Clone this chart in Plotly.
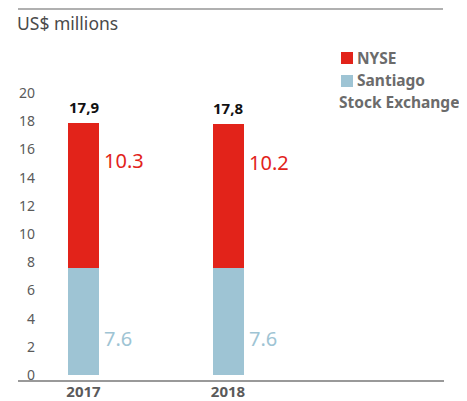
import plotly.graph_objects as go

# ---- data ----
years = ["2017", "2018"]
santiago = [7.6, 7.6]
nyse = [10.3, 10.2]
y_ticks = [0, 2, 4, 6, 8, 10, 12, 14, 16, 18, 20]
unit_label = "US$ millions"
series_names = ["NYSE", "Santiago", "Stock Exchange"]

RED = "#e2231a"
BLUE = "#9ec4d4"
GRAY = "#5a5a5a"
FONT = "Noto Sans"

OFF = 8  # page body margin
W, H = 467 - OFF, 401 - OFF
# plot area in page pixels
PL, PR, PT, PB = 38, 444, 70, 381
L, R, T, B = PL - OFF, W - (PR - OFF), PT - OFF, H - (PB - OFF)
PW, PH = PR - PL, PB - PT


def px_x(px):
    return (px - PL) / PW


def px_y(py):
    return (PB - py) / PH


xs = list(range(len(years)))
totals = [a + b for a, b in zip(santiago, nyse)]
BW = 0.2145

fig = go.Figure()
fig.add_trace(go.Bar(x=xs, y=santiago, width=BW, marker_color=BLUE,
                     marker_line_width=0, name=series_names[1], showlegend=False))
fig.add_trace(go.Bar(x=xs, y=nyse, width=BW, marker_color=RED,
                     marker_line_width=0, name=series_names[0], showlegend=False))

annotations = []
for i in xs:
    annotations.append(dict(x=i, y=totals[i], text="<b>" + f"{totals[i]:.1f}".replace(".", ",") + "</b>",
                            showarrow=False, xanchor="center", yanchor="middle", yshift=16,
                            font=dict(family=FONT, size=15, color="#111111")))
    annotations.append(dict(x=i + BW / 2, y=totals[i], text=f"{nyse[i]}",
                            showarrow=False, xanchor="left", yanchor="middle",
                            xshift=3, yshift=-38,
                            font=dict(family=FONT, size=20, color=RED)))
    annotations.append(dict(x=i + BW / 2, y=0, text=f"{santiago[i]}",
                            showarrow=False, xanchor="left", yanchor="middle",
                            xshift=3, yshift=37,
                            font=dict(family=FONT, size=20, color=BLUE)))

annotations.append(dict(xref="paper", yref="paper", x=px_x(15), y=px_y(23), text=unit_label,
                        showarrow=False, xanchor="left", yanchor="middle",
                        font=dict(family=FONT, size=17.5, color="#4a4a4a")))
# legend
legend_font = dict(family=FONT, size=15.5, color="#6b6b6b")
annotations.append(dict(xref="paper", yref="paper", x=px_x(355), y=px_y(58),
                        text="<b>" + series_names[0] + "</b>",
                        showarrow=False, xanchor="left", yanchor="middle", font=legend_font))
annotations.append(dict(xref="paper", yref="paper", x=px_x(355), y=px_y(80),
                        text="<b>" + series_names[1] + "</b>",
                        showarrow=False, xanchor="left", yanchor="middle", font=legend_font))
annotations.append(dict(xref="paper", yref="paper", x=px_x(337), y=px_y(102),
                        text="<b>" + series_names[2] + "</b>",
                        showarrow=False, xanchor="left", yanchor="middle", font=legend_font))

shapes = [
    dict(type="rect", xref="paper", yref="paper", x0=px_x(341), x1=px_x(353),
         y0=px_y(64), y1=px_y(52), fillcolor=RED, line_width=0),
    dict(type="rect", xref="paper", yref="paper", x0=px_x(341), x1=px_x(353),
         y0=px_y(87), y1=px_y(75), fillcolor=BLUE, line_width=0),
    dict(type="line", xref="paper", yref="paper", x0=px_x(18), x1=px_x(444),
         y0=px_y(381), y1=px_y(381), line=dict(color="#777777", width=1.5)),
    dict(type="line", xref="paper", yref="paper", x0=px_x(18), x1=px_x(443),
         y0=px_y(9), y1=px_y(9), line=dict(color="#b0b0b0", width=2)),
]

scale = 14.1  # px per unit
zero_px = 375  # page px of y=0
ymin = -(PB - zero_px) / scale
ymax = (zero_px - PT) / scale
c0, spacing = 83.5, 144.5

fig.update_layout(
    width=W, height=H,
    margin=dict(l=L, r=R, t=T, b=B, autoexpand=False),
    barmode="stack",
    plot_bgcolor="white", paper_bgcolor="white",
    showlegend=False,
    annotations=annotations,
    shapes=shapes,
    xaxis=dict(range=[-(c0 - PL) / spacing, 1 + (PR - (c0 + spacing)) / spacing],
               tickvals=xs, ticktext=["<b>" + y + "</b>" for y in years],
               tickfont=dict(family=FONT, size=15, color=GRAY),
               showgrid=False, zeroline=False, showline=False, ticks="",
               automargin=False, ticklabelstandoff=0),
    yaxis=dict(range=[ymin, ymax], tickvals=y_ticks,
               tickfont=dict(family=FONT, size=14, color=GRAY),
               showgrid=False, zeroline=False, showline=False, ticks="",
               automargin=False, ticklabelstandoff=2),
)

fig.write_html("out.html")
